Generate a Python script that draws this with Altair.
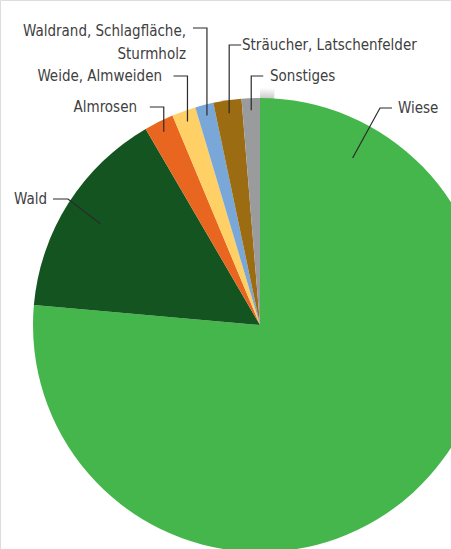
import math
import altair as alt
import pandas as pd

# ---- data ----
categories = ["Wiese", "Wald", "Almrosen", "Weide, Almweiden",
              "Waldrand, Schlagfläche, Sturmholz", "Sträucher, Latschenfelder", "Sonstiges"]
label_texts = ["Wiese", "Wald", "Almrosen", "Weide, Almweiden",
               "Waldrand, Schlagfläche,\nSturmholz", "Sträucher, Latschenfelder", "Sonstiges"]
values = [76.4, 15.2, 2.1, 1.7, 1.3, 2.0, 1.3]
colors = ["#45b64b", "#135421", "#e8661f", "#fed065", "#78a7d8", "#9c6c12", "#9a9b9c"]

# ---- layout (styles / positions) ----
W, H = 451, 549
CX, CY, R = 260, 325, 227
FONT = "DejaVu Sans Condensed, sans-serif"
# per label: anchor radius, anchor angle override (deg, None = slice middle),
# elbow (x or None = anchor x, y), end x, label x, label y, align
layout = [
    (191, 29, 380, 108, 392, 398, 108, "left"),
    (189, None, 68, 199, 53, 47, 199, "right"),
    (216, None, None, 107, -14, 137, 107, "right"),
    (216, None, None, 76, -14, 162, 76, "right"),
    (216, None, None, 28, -14, 186, 30.5, "right"),
    (214, None, None, 45, 12, 242, 45, "left"),
    (215, None, None, 76, 12, 270, 76, "left"),
]

total = sum(values)
df = pd.DataFrame({"cat": categories, "value": values, "idx": list(range(len(values)))})

line_rows, text_rows = [], []
cum = 0.0
for i, (cat, v) in enumerate(zip(categories, values)):
    a0 = cum / total * 360
    cum += v
    a1 = cum / total * 360
    r_a, ang_o, ex, ey, endx, lx, ly, al = layout[i]
    ang = ang_o if ang_o is not None else (a0 + a1) / 2
    ax = CX + r_a * math.sin(math.radians(ang))
    ay = CY - r_a * math.cos(math.radians(ang))
    if ex is None:
        ex = ax
        endx = ax + endx
    line_rows += [
        {"cat": cat, "step": 0, "x": ax, "y": ay},
        {"cat": cat, "step": 1, "x": ex, "y": ey},
        {"cat": cat, "step": 2, "x": endx, "y": ey},
    ]
    text_rows.append({"cat": cat, "text": label_texts[i], "x": lx, "y": ly, "align": al})

ldf = pd.DataFrame(line_rows)
tdf = pd.DataFrame(text_rows)

xs = alt.Scale(domain=[0, W], nice=False, zero=False)
ys = alt.Scale(domain=[0, H], nice=False, zero=False, reverse=True)

# soft shadow ring around the pie
shadow_layers = []
for k in range(1, 11):
    shadow_layers.append(
        alt.Chart(pd.DataFrame({"v": [1]})).mark_arc(
            radius=R + k, radius2=R - 3, color="#000000", opacity=0.018
        ).encode(theta=alt.Theta("v:Q"), x=alt.value(CX), y=alt.value(CY))
    )

pie = alt.Chart(df).mark_arc(radius=R).encode(
    theta=alt.Theta("value:Q", stack=True),
    order=alt.Order("idx:Q"),
    color=alt.Color("cat:N", scale=alt.Scale(domain=categories, range=colors), legend=None),
    x=alt.value(CX),
    y=alt.value(CY),
)

lines = alt.Chart(ldf).mark_line(color="#2b2b2b", strokeWidth=1.2).encode(
    x=alt.X("x:Q", scale=xs, axis=None),
    y=alt.Y("y:Q", scale=ys, axis=None),
    detail="cat:N",
    order="step:Q",
)

texts = []
for al in ["left", "right"]:
    texts.append(
        alt.Chart(tdf[tdf["align"] == al]).mark_text(
            align=al, baseline="middle", font=FONT, fontSize=15,
            color="#404040", lineBreak="\n", lineHeight=23
        ).encode(
            x=alt.X("x:Q", scale=xs, axis=None),
            y=alt.Y("y:Q", scale=ys, axis=None),
            text="text:N",
        )
    )

chart = alt.layer(*shadow_layers, pie, lines, *texts).properties(
    width=W, height=H, padding=0, autosize=alt.AutoSizeParams(type="none")
).configure_view(stroke=None).configure(background="white")

chart.save("out.html", embed_options={"renderer": "svg", "actions": False})
